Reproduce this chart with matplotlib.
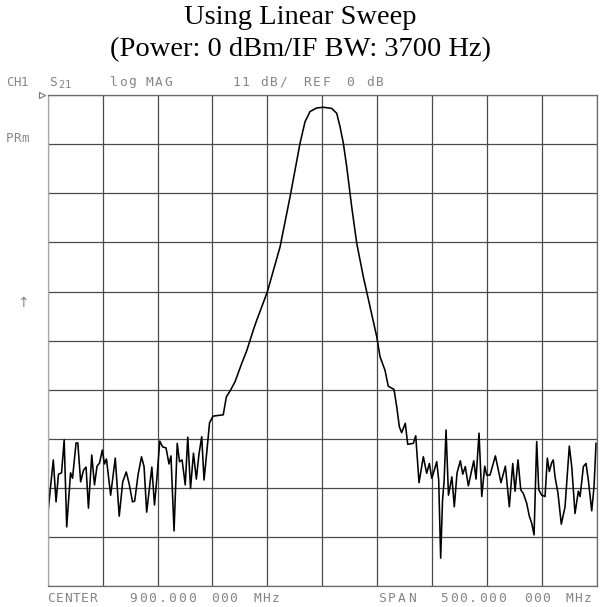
import matplotlib
matplotlib.use("Agg")
import matplotlib.pyplot as plt
import numpy as np

# --- instrument settings (from the screen annotations) ---
CENTER_MHZ = 900.0
SPAN_MHZ = 500.0
SCALE_DB = 11.0   # dB per division
REF_DB = 0.0      # reference at top line
N_DIV = 10

# --- S21 trace (MHz, dB) ---
freq_mhz = [
    650.0, 655.1, 657.6, 659.8, 662.6, 665.0, 667.3, 670.8, 672.6, 675.8,
    677.4, 680.0, 682.6, 684.9, 687.1, 690.1, 692.6, 694.9, 697.2, 699.7,
    701.7, 703.5, 707.3, 711.5, 715.1, 718.3, 721.5, 724.0, 727.2, 729.2,
    732.2, 735.4, 737.7, 740.1, 744.8, 747.2, 749.5, 752.0, 754.7, 757.7,
    760.4, 762.2, 765.0, 767.9, 770.0, 772.3, 775.2, 777.5, 780.0, 782.7,
    785.3, 787.7, 790.2, 792.3, 795.3, 797.3, 800.5, 809.8, 812.6, 816.4,
    820.5, 826.6, 831.1, 837.2, 840.3, 849.9, 861.5, 870.6, 875.1, 879.7,
    884.2, 888.8, 894.9, 900.9, 908.5, 913.1, 916.1, 919.1, 922.2, 926.7,
    931.3, 937.3, 943.4, 949.5, 952.5, 957.0, 960.0, 965.2, 967.7, 970.1,
    972.2, 975.5, 977.7, 982.8, 985.0, 988.0, 991.9, 995.0, 997.4, 999.6,
    1001.9, 1004.1, 1005.9, 1007.7, 1009.4, 1010.8, 1012.6, 1014.8, 1017.9, 1020.1,
    1022.6, 1025.6, 1027.8, 1030.1, 1032.9, 1037.8, 1039.9, 1042.6, 1045.1, 1047.8,
    1049.6, 1052.6, 1057.5, 1062.6, 1066.6, 1070.2, 1073.3, 1075.4, 1078.1, 1080.6,
    1082.9, 1086.0, 1088.4, 1090.6, 1092.7, 1095.1, 1097.0, 1099.7, 1102.7, 1104.8,
    1106.6, 1108.8, 1110.2, 1111.8, 1114.5, 1117.5, 1120.9, 1124.8, 1127.0, 1130.0,
    1133.0, 1134.6, 1137.6, 1140.0, 1142.1, 1145.2, 1147.3, 1149.1,
]
s21_db = [
    -94.0, -81.7, -91.1, -84.9, -84.6, -77.2, -96.7, -84.6, -85.8, -77.9,
    -77.9, -86.6, -84.0, -83.3, -92.5, -80.6, -87.3, -83.1, -82.4, -79.5,
    -82.6, -81.5, -89.6, -81.3, -94.3, -86.6, -84.4, -86.9, -91.1, -90.9,
    -85.1, -81.0, -83.2, -93.4, -83.3, -91.8, -85.5, -77.5, -78.8, -79.0,
    -82.6, -80.8, -97.6, -78.0, -82.1, -81.7, -87.3, -76.6, -88.1, -80.2,
    -86.0, -80.4, -76.5, -86.2, -78.7, -73.4, -71.9, -71.6, -67.6, -66.1,
    -64.2, -60.1, -57.3, -52.6, -50.4, -44.1, -34.0, -22.8, -16.8, -10.8,
    -6.0, -3.7, -2.9, -2.75, -3.0, -4.1, -7.1, -10.8, -16.1, -25.0,
    -33.2, -40.7, -47.4, -54.1, -58.6, -61.6, -65.2, -65.9, -69.8, -74.3,
    -75.6, -73.5, -78.2, -78.0, -76.3, -86.8, -81.0, -84.7, -82.5, -85.8,
    -84.0, -82.1, -86.2, -103.7, -90.7, -86.6, -75.0, -89.6, -85.5, -92.2,
    -84.6, -81.9, -84.9, -83.2, -87.5, -81.9, -86.0, -75.7, -89.9, -83.1,
    -85.1, -85.1, -80.8, -86.8, -83.1, -92.2, -82.5, -88.7, -81.7, -88.4,
    -89.2, -91.4, -94.3, -95.9, -98.5, -77.6, -88.4, -89.6, -89.9, -81.3,
    -84.3, -82.3, -81.7, -85.5, -89.2, -96.1, -92.2, -78.6, -83.2, -93.7,
    -88.7, -89.9, -83.2, -82.5, -86.2, -93.1, -87.7, -78.0,
]

# --- figure ---
W, H = 600, 607
fig = plt.figure(figsize=(W / 100, H / 100), dpi=100)
fig.patch.set_facecolor("white")

ax = fig.add_axes([47.7 / W, 1 - 586.3 / H, 549.3 / W, 491.3 / H])

f_lo = CENTER_MHZ - SPAN_MHZ / 2
f_hi = CENTER_MHZ + SPAN_MHZ / 2
db_lo = REF_DB - N_DIV * SCALE_DB

ax.set_xlim(f_lo, f_hi)
ax.set_ylim(db_lo, REF_DB)
ax.set_xticks(np.linspace(f_lo, f_hi, N_DIV + 1))
ax.set_yticks(np.linspace(db_lo, REF_DB, N_DIV + 1))
ax.tick_params(length=0, labelbottom=False, labelleft=False)
ax.grid(True, color="#4a4a4a", lw=0.9)
for s in ax.spines.values():
    s.set_color("#6a6a6a")
    s.set_linewidth(0.9)
ax.spines["left"].set_color("#aaaaaa")

ax.plot(freq_mhz, s21_db, color="black", lw=1.15)

# reference position marker at top-left
ax.plot([f_lo - 5], [REF_DB], marker=">", ms=5, mfc="white", mec="#777777",
        mew=0.8, clip_on=False)

# --- titles ---
serif = "Liberation Serif"
fig.text(0.5, 1 - 18 / H, "Using Linear Sweep", family=serif, fontsize=20.5,
         ha="center", va="center")
fig.text(0.5, 1 - 50 / H, "(Power: 0 dBm/IF BW: 3700 Hz)", family=serif,
         fontsize=20.5, ha="center", va="center")

# --- analyzer screen annotations (fixed-pitch plotter lettering) ---
GREY = "#858585"


def plotter_text(x_px, y_px, s, pitch=9.0, size=9.3):
    for i, ch in enumerate(s):
        if ch != " ":
            fig.text((x_px + i * pitch) / W, 1 - y_px / H, ch, family="DejaVu Sans Mono",
                     fontsize=size, color=GREY, va="center", ha="left")


plotter_text(6, 82, "CH1", pitch=7.5, size=9)
plotter_text(49, 82, "S")
plotter_text(58, 85, "21", pitch=7, size=7.5)
plotter_text(110, 82, "log MAG")
plotter_text(232, 82, "11 dB/", pitch=9.5)
plotter_text(303, 82, "REF", pitch=9.5)
plotter_text(346, 82, "0")
plotter_text(366, 82, "dB", pitch=10)

plotter_text(6, 138, "PRm", pitch=7.5, size=9)
fig.text(17 / W, 1 - 303 / H, "\u2191", family="DejaVu Sans", fontsize=10,
         color=GREY, va="center", ha="left")

plotter_text(47, 598, "CENTER", pitch=8.5)
plotter_text(129, 598, "900.000", pitch=9.8)
plotter_text(211, 598, "000", pitch=9.3)
plotter_text(253, 598, "MHz", pitch=9.5)
plotter_text(378, 598, "SPAN", pitch=10)
plotter_text(440, 598, "500.000", pitch=9.7)
plotter_text(524, 598, "000", pitch=9.3)
plotter_text(565, 598, "MHz", pitch=9.3)

fig.savefig("out.png", dpi=100)
